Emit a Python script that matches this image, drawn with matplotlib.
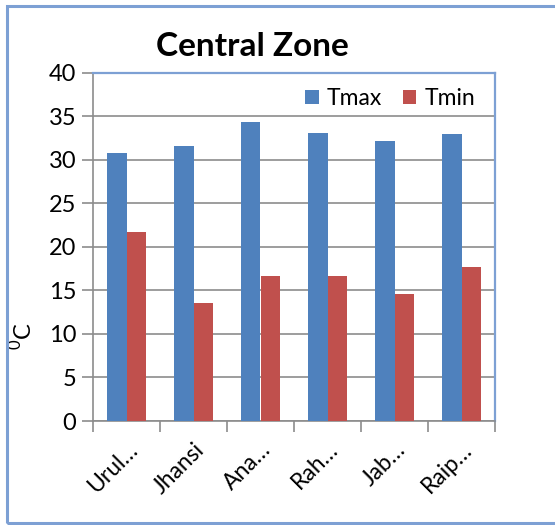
import matplotlib
matplotlib.use("Agg")
import matplotlib.pyplot as plt
from matplotlib.patches import Rectangle
import numpy as np

stations = ["Urul…", "Jhansi", "Ana…", "Rah…", "Jab…", "Raip…"]
tmax = [30.8, 31.6, 34.3, 33.1, 32.2, 33.0]
tmin = [21.7, 13.6, 16.7, 16.6, 14.6, 17.7]
yticks = [0, 5, 10, 15, 20, 25, 30, 35, 40]

plt.rcParams["font.family"] = ["Lato", "DejaVu Sans"]
plt.rcParams["mathtext.fontset"] = "custom"
plt.rcParams["mathtext.rm"] = "Lato"

W, H = 555, 525
fig = plt.figure(figsize=(W / 100, H / 100), dpi=100)

# chart frame (open on the right)
fig.patches.append(Rectangle((7 / W, 2 / H), 1.2, (H - 8) / H,
                             transform=fig.transFigure, fill=False,
                             edgecolor="#7DA0D4", linewidth=2.2))

ax_left, ax_right, ax_top, ax_bottom = 93, 495, 72.7, 421
ax = fig.add_axes([ax_left / W, 1 - ax_bottom / H,
                   (ax_right - ax_left) / W, (ax_bottom - ax_top) / H])

x = np.arange(len(stations))
bw = 0.285
grid_c = "#8C8C8C"
ax.bar(x - bw / 2, tmax, bw, color="#4F81BD", label="Tmax", zorder=3)
ax.bar(x + bw / 2, tmin, bw, color="#C0504D", label="Tmin", zorder=3)

ax.set_xlim(-0.5, len(stations) - 0.5)
ax.set_ylim(0, 40)
ax.set_yticks(yticks)
ax.yaxis.grid(True, color=grid_c, linewidth=1.2, zorder=0)

ax.set_xticks(np.arange(len(stations) + 1) - 0.5)
ax.set_xticklabels([])
ax.set_xticks(x, minor=True)
ax.set_xticklabels(stations, minor=True, rotation=45, ha="right",
                   rotation_mode="anchor", fontsize=16.5)
ax.tick_params(axis="x", which="minor", length=0, pad=13)
ax.tick_params(axis="x", which="major", length=8, width=1.2, color=grid_c)
ax.tick_params(axis="y", length=8, width=1.2, color=grid_c, labelsize=17, pad=4)

for s in ("left", "bottom"):
    ax.spines[s].set_color(grid_c)
    ax.spines[s].set_linewidth(1.2)
for s in ("top", "right"):
    ax.spines[s].set_color("#7DA0D4")
    ax.spines[s].set_linewidth(1.6)

ax.set_ylabel(r"$^{\mathrm{0}}$C", fontsize=17)
ax.yaxis.set_label_coords((36 - ax_left) / (ax_right - ax_left),
                          (ax_bottom - 336) / (ax_bottom - ax_top))

ax.legend(loc="upper right", ncol=2, frameon=False, fontsize=16.5,
          handlelength=0.6, handleheight=0.6, handletextpad=0.35,
          columnspacing=0.9, bbox_to_anchor=(0.985, 0.995), borderaxespad=0.2)

fig.text(252 / W, 1 - 47 / H, "Central Zone", ha="center", va="center",
         fontsize=24, fontweight="bold")

fig.savefig("out.png", dpi=100)
